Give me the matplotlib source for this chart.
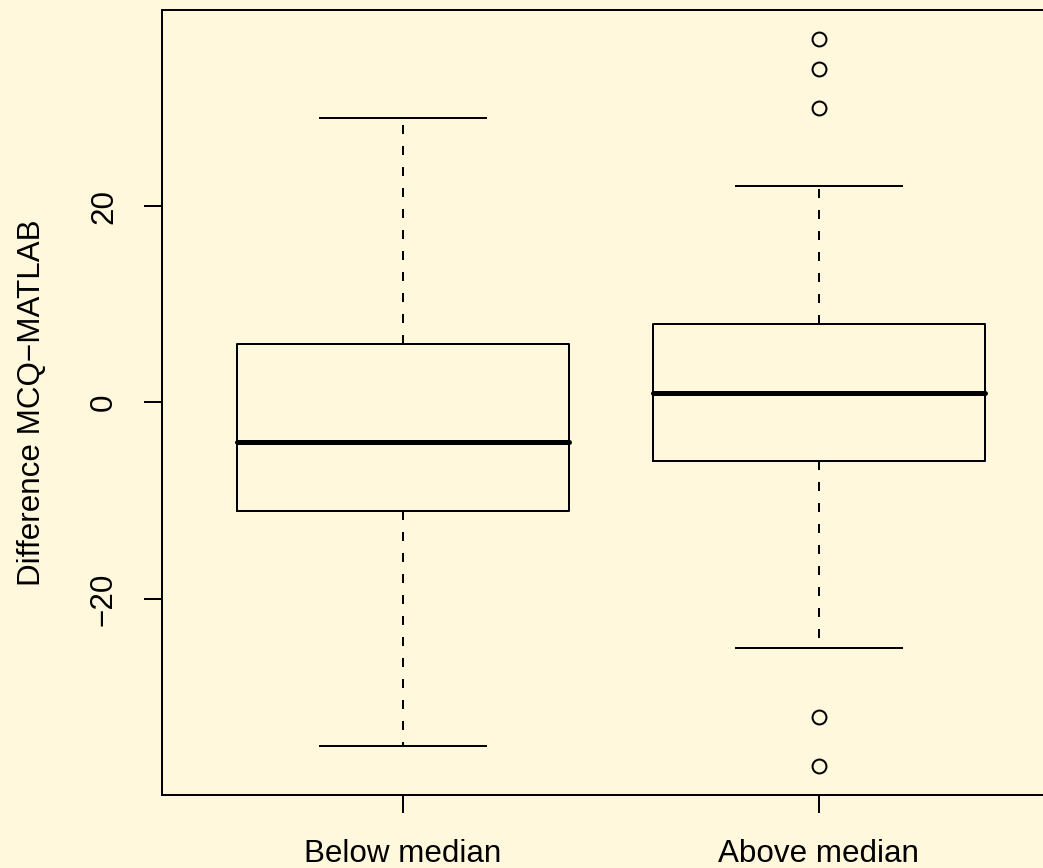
import numpy as np
import matplotlib.pyplot as plt

plt.rcParams['font.family'] = ['Liberation Sans', 'DejaVu Sans']

# group labels and box statistics
groups = ['Below median', 'Above median']
whis_low = [-35, -25]
q1 = [-11, -6]
medians = [-4, 1]
q3 = [6, 8]
whis_high = [29, 22]
fliers = [[], [37, 34, 30, -32, -37]]

bg = '#FFF8DC'
lw = 1.44

stats = []
for i in range(len(groups)):
    stats.append({'label': groups[i], 'whislo': whis_low[i], 'q1': q1[i],
                  'med': medians[i], 'q3': q3[i], 'whishi': whis_high[i],
                  'fliers': fliers[i]})

fig = plt.figure(figsize=(10.43, 8.68), dpi=100, facecolor=bg)
ax = fig.add_axes([0.1553, 0.0841, 0.861, 0.9044], facecolor=bg)

ax.bxp(stats, positions=[1, 2], widths=0.8, capwidths=0.4,
       boxprops=dict(color='black', linewidth=lw),
       whiskerprops=dict(color='black', linewidth=lw, linestyle=(0, (4.5, 6))),
       capprops=dict(color='black', linewidth=lw),
       medianprops=dict(color='black', linewidth=3.6, solid_capstyle='round'),
       flierprops=dict(marker='o', markersize=10, markerfacecolor='none',
                       markeredgecolor='black', markeredgewidth=lw))

ax.set_xlim(0.42, 2.58)
ax.set_ylim(-39.96, 39.96)
ax.set_yticks([-20, 0, 20])
ax.set_xticks([1, 2])
ax.set_xticklabels(groups)
for s in ax.spines.values():
    s.set_linewidth(lw)
ax.tick_params(axis='both', direction='out', length=13, width=lw, labelsize=22.6)
ax.tick_params(axis='x', pad=19)
ax.tick_params(axis='y', pad=18)
for t in ax.get_yticklabels():
    t.set_rotation(90)
    t.set_va('center')

ax.set_ylabel('Difference MCQ\u2212MATLAB', fontsize=22.6, va='center')
ax.yaxis.set_label_coords(-0.145, 0.5)

fig.savefig('out.png', dpi=100, facecolor=bg)
